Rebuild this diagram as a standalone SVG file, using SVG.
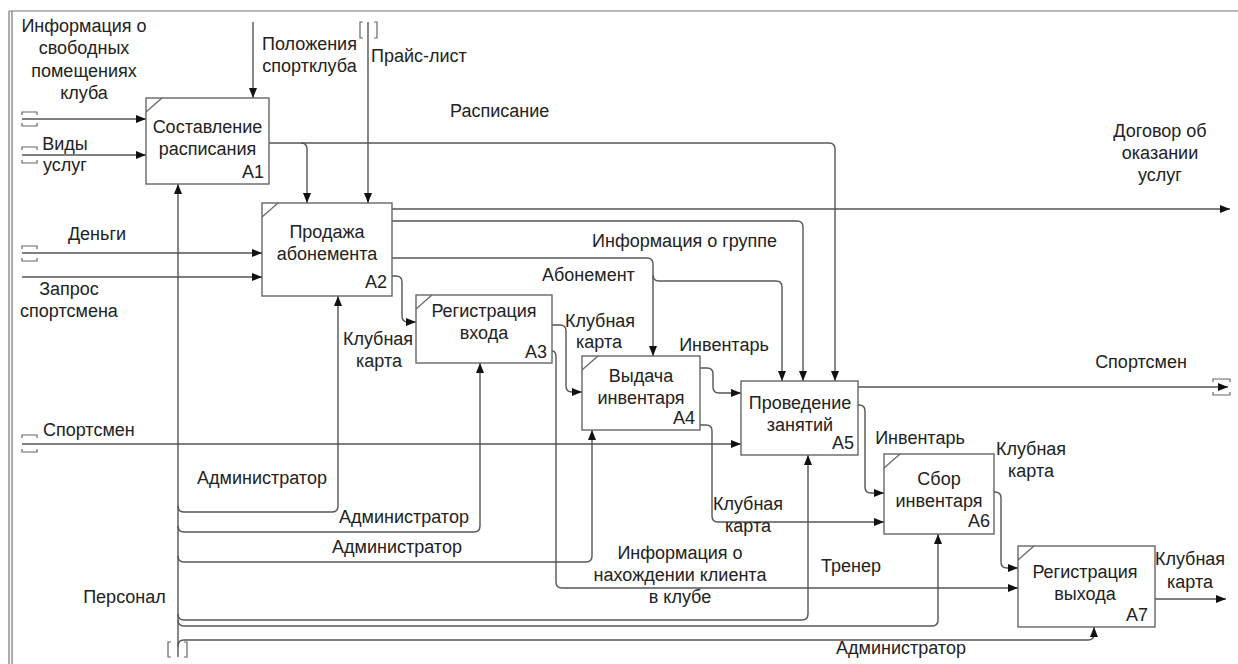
<svg xmlns="http://www.w3.org/2000/svg" width="1238" height="664" viewBox="0 0 1238 664">
<style>
text{font-family:"Liberation Sans",Arial,sans-serif;font-size:18px;fill:#222}
.m{text-anchor:middle}
.e{text-anchor:end}
.box{fill:#fff;stroke:#666;stroke-width:1.4}
.dg{stroke:#666;stroke-width:1.2;fill:none}
.c{fill:none;stroke:#555;stroke-width:1.4;marker-end:url(#ah)}
.n{fill:none;stroke:#555;stroke-width:1.4}
.t{fill:none;stroke:#666;stroke-width:1.2}
.fr{stroke:#777;stroke-width:1.2;fill:none}
</style>
<defs>
<marker id="ah" viewBox="0 0 10 8" refX="10" refY="4" markerWidth="10" markerHeight="8" markerUnits="userSpaceOnUse" orient="auto">
<path d="M0,0 L10,4 L0,8 z" fill="#111"/>
</marker>
</defs>
<rect width="1238" height="664" fill="#fff"/>
<g id="frame">
<path class="fr" d="M9,11 H1238 M9,11 V664 M12,11 V664"/>
</g>
<g id="connectors">
<path class="c" d="M22,119 H146"/>
<path class="c" d="M22,155 H146"/>
<path class="c" d="M253,22 V98"/>
<path class="c" d="M368,22 V203"/>
<path class="c" d="M269,143 H829 Q835,143 835,149 V381"/>
<path class="c" d="M301,143 Q307,143 307,149 V203"/>
<path class="c" d="M22,253 H262"/>
<path class="c" d="M22,277 H262"/>
<path class="c" d="M392,209 H1230"/>
<path class="c" d="M392,221 H797 Q803,221 803,227 V381"/>
<path class="c" d="M392,258 H647 Q653,258 653,264 V356"/>
<path class="c" d="M653,275 Q653,281 659,281 H776 Q782,281 782,287 V381"/>
<path class="c" d="M392,276 H396 Q402,276 402,282 V316 Q402,322 408,322 H416"/>
<path class="c" d="M552,325 H560 Q566,325 566,331 V386 Q566,392 572,392 H582"/>
<path class="c" d="M552,351 Q556,351 556,357 V582 Q556,588 562,588 H1018"/>
<path class="c" d="M700,368 H707 Q713,368 713,374 V387 Q713,393 719,393 H741"/>
<path class="c" d="M700,425 H706 Q712,425 712,431 V516 Q712,522 718,522 H884"/>
<path class="c" d="M22,444 H741"/>
<path class="c" d="M858,387 H1228"/>
<path class="c" d="M858,405 H859 Q865,405 865,411 V487 Q865,493 871,493 H884"/>
<path class="c" d="M994,492 H995 Q1001,492 1001,498 V562 Q1001,568 1007,568 H1018"/>
<path class="c" d="M1155,599 H1226"/>
<path class="c" d="M178,657 V184"/>
<path class="c" d="M178,506 Q178,512 184,512 H332 Q338,512 338,506 V296"/>
<path class="c" d="M178,526 Q178,532 184,532 H474 Q480,532 480,526 V363"/>
<path class="c" d="M178,556 Q178,562 184,562 H586 Q592,562 592,556 V430"/>
<path class="c" d="M178,614 Q178,620 184,620 H802 Q808,620 808,614 V455"/>
<path class="c" d="M178,620 Q178,626 184,626 H932 Q938,626 938,620 V534"/>
<path class="c" d="M178,646 Q178,640 184,640 H1088 Q1094,640 1094,634 V627"/>
<!-- tunnels -->
<path class="t" d="M22,115 V112 H37 V115 M22,123 V126 H37 V123"/>
<path class="t" d="M22,150 V147 H37 V150 M22,160 V163 H37 V160"/>
<path class="t" d="M22,249 V246 H37 V249 M22,258 V261 H37 V258"/>
<path class="t" d="M22,438 V435 H37 V438 M22,449 V452 H37 V449"/>
<path class="t" d="M1213,382 V379 H1230 V382 M1213,392 V395 H1230 V392"/>
<path class="t" d="M363,22 H360 V38 H363 M374,22 H377 V38 H374"/>
<path class="t" d="M171,642 H168 V657 H171 M184,642 H187 V657 H184"/>
</g>
<g id="A1">
<rect class="box" x="146" y="98" width="123" height="86"/>
<path class="dg" d="M146,112 L162,98"/>
<text class="m" x="207.5" y="133">Составление</text>
<text class="m" x="207.5" y="155">расписания</text>
<text class="e" x="264" y="178">A1</text>
</g>
<g id="A2">
<rect class="box" x="262" y="203" width="130" height="93"/>
<path class="dg" d="M262,217 L278,203"/>
<text class="m" x="327" y="238">Продажа</text>
<text class="m" x="327" y="260">абонемента</text>
<text class="e" x="387" y="288">A2</text>
</g>
<g id="A3">
<rect class="box" x="416" y="295" width="136" height="68"/>
<path class="dg" d="M416,309 L432,295"/>
<text class="m" x="484" y="317">Регистрация</text>
<text class="m" x="484" y="339">входа</text>
<text class="e" x="547" y="358">A3</text>
</g>
<g id="A4">
<rect class="box" x="582" y="356" width="118" height="74"/>
<path class="dg" d="M582,370 L598,356"/>
<text class="m" x="641" y="382">Выдача</text>
<text class="m" x="641" y="404">инвентаря</text>
<text class="e" x="695" y="424">A4</text>
</g>
<g id="A5">
<rect class="box" x="741" y="381" width="117" height="74"/>
<text class="m" x="800" y="409">Проведение</text>
<text class="m" x="800" y="431">занятий</text>
<text class="e" x="854" y="449">A5</text>
</g>
<g id="A6">
<rect class="box" x="884" y="454" width="110" height="80"/>
<path class="dg" d="M884,468 L900,454"/>
<text class="m" x="939" y="485">Сбор</text>
<text class="m" x="939" y="507">инвентаря</text>
<text class="e" x="990" y="527">A6</text>
</g>
<g id="A7">
<rect class="box" x="1018" y="546" width="137" height="81"/>
<path class="dg" d="M1018,560 L1034,546"/>
<text class="m" x="1085" y="578">Регистрация</text>
<text class="m" x="1085" y="600">выхода</text>
<text class="e" x="1148" y="621">A7</text>
</g>
<g id="labels">
<text class="m" x="84" y="32">Информация о</text>
<text class="m" x="84" y="54">свободных</text>
<text class="m" x="84" y="77">помещениях</text>
<text class="m" x="84" y="99">клуба</text>
<text class="m" x="309.5" y="50">Положения</text>
<text class="m" x="309.5" y="72">спортклуба</text>
<text x="371" y="62">Прайс-лист</text>
<text x="450" y="117">Расписание</text>
<text class="m" x="1160" y="137">Договор об</text>
<text class="m" x="1160" y="159">оказании</text>
<text class="m" x="1160" y="181">услуг</text>
<text class="m" x="65" y="150">Виды</text>
<text class="m" x="65" y="171">услуг</text>
<text class="m" x="97" y="240">Деньги</text>
<text class="m" x="69" y="295">Запрос</text>
<text class="m" x="69" y="317">спортсмена</text>
<text x="592" y="247">Информация о группе</text>
<text x="542" y="281">Абонемент</text>
<text class="m" x="378" y="345">Клубная</text>
<text class="m" x="379" y="367">карта</text>
<text class="m" x="600" y="327">Клубная</text>
<text class="m" x="599" y="348">карта</text>
<text class="m" x="724" y="351">Инвентарь</text>
<text x="43" y="436">Спортсмен</text>
<text class="m" x="1141" y="368">Спортсмен</text>
<text class="m" x="920" y="444">Инвентарь</text>
<text class="m" x="1031" y="455">Клубная</text>
<text class="m" x="1031" y="477">карта</text>
<text class="m" x="748" y="510">Клубная</text>
<text class="m" x="748" y="532">карта</text>
<text class="m" x="262" y="484">Администратор</text>
<text class="m" x="404" y="523">Администратор</text>
<text class="m" x="397" y="553">Администратор</text>
<text class="m" x="680" y="559">Информация о</text>
<text class="m" x="680" y="581">нахождении клиента</text>
<text class="m" x="680" y="603">в клубе</text>
<text x="821" y="572">Тренер</text>
<text class="m" x="124.5" y="603">Персонал</text>
<text class="m" x="1190" y="565">Клубная</text>
<text class="m" x="1190" y="588">карта</text>
<text class="m" x="901" y="654">Администратор</text>
</g>
</svg>
